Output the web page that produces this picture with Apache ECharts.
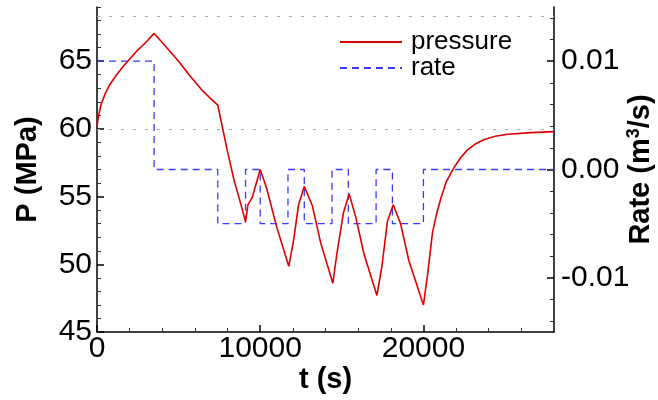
<!DOCTYPE html>
<html>
<head>
<meta charset="utf-8">
<script src="https://cdn.jsdelivr.net/npm/echarts@6/dist/echarts.min.js"></script>
<style>
html,body{margin:0;padding:0;background:#fff;}
#chart{width:658px;height:400px;}
</style>
</head>
<body>
<div id="chart"></div>
<script>
// pressure history (t in s, P in MPa)
var pressureT = [0, 100, 250, 500, 800, 1200, 1600, 2400, 3000, 3500,
  4200, 5000, 5700, 6400, 7000, 7400,
  7600, 8000, 8400, 8800, 9100,
  9250, 9500, 10000,
  10400, 11000, 11750,
  12050, 12350, 12700,
  13200, 13700, 14450,
  14700, 15100, 15450,
  15850, 16350, 17150,
  17450, 17800, 18150,
  18600, 19100, 20000,
  20250, 20550, 20800, 21050, 21400, 21900, 22300, 22700, 23200, 23700, 24400, 25150, 26600, 28000];
var pressureP = [60.2, 61.0, 61.8, 62.6, 63.3, 64.0, 64.6, 65.7, 66.4, 67.05,
  66.1, 65.0, 63.9, 62.9, 62.2, 61.75,
  60.6, 58.3, 56.2, 54.5, 53.15,
  54.4, 54.9, 57.0,
  55.6, 52.8, 49.85,
  51.8, 54.4, 55.75,
  54.3, 51.6, 48.6,
  50.8, 53.8, 55.2,
  53.5, 50.8, 47.7,
  49.8, 53.2, 54.4,
  53.0, 50.3, 47.0,
  49.2, 52.3, 53.7, 54.8, 56.1, 57.2, 57.9, 58.45, 58.9, 59.2, 59.45, 59.6, 59.72, 59.8];

// rate steps: value held from each time until the next one
var rateT = [0, 3500, 7400, 9100, 10000, 11700, 12700, 14400, 15400, 17100, 18100, 20000, 28000];
var rateQ = [0.01, 0, -0.005, 0, -0.005, 0, -0.005, 0, -0.005, 0, -0.005, 0, 0];

// ticks
var tMajor = [0, 10000, 20000];
var tMinor = [2000, 4000, 6000, 8000, 12000, 14000, 16000, 18000, 22000, 24000, 26000];
var pMajor = [45, 50, 55, 60, 65];
var pMinor = [46, 47, 48, 49, 51, 52, 53, 54, 56, 57, 58, 59, 61, 62, 63, 64, 66, 67, 68, 69];
var qMajor = [-0.01, 0, 0.01];
var qMinor = [-0.014, -0.012, -0.008, -0.006, -0.004, -0.002, 0.002, 0.004, 0.006, 0.008, 0.012, 0.014];

// dotted reference lines (MPa)
var gridLevels = [60, 68.3];

var FONT = 'Liberation Sans, Arial, sans-serif';

function pairs(xs, ys) {
  return xs.map(function (x, i) { return [x, ys[i]]; });
}

var chart = echarts.init(document.getElementById('chart'));

var lineAxis = { show: true, onZero: false, lineStyle: { color: '#000', width: 1.5 } };
var noLine = { show: false, onZero: false };
var noLabel = { show: false };

var option = {
  animation: false,
  grid: [
    { left: 97, right: 104, top: 7, bottom: 68, outerBoundsMode: 'none', containLabel: false },
    { left: 97, right: 104, top: 7, bottom: 68, outerBoundsMode: 'none', containLabel: false }
  ],
  legend: {
    orient: 'vertical',
    left: 334,
    top: 24,
    itemWidth: 62,
    itemHeight: 12,
    itemGap: 0,
    itemStyle: { opacity: 0 },
    textStyle: { fontSize: 26, color: '#000', fontFamily: FONT, padding: [0, 0, 0, 4] },
    data: ['pressure', 'rate']
  },
  xAxis: [
    {
      type: 'value', gridIndex: 0, min: 0, max: 28000, position: 'bottom',
      axisLine: lineAxis,
      axisTick: { inside: true, length: 7, customValues: tMajor, lineStyle: { color: '#000', width: 1.5 } },
      axisLabel: {
        customValues: tMajor, fontSize: 30, color: '#000', fontFamily: FONT, margin: 2,
        formatter: function (v) { return String(v); }
      },
      splitLine: { show: false },
      name: 't (s)', nameLocation: 'middle', nameGap: 33, nameMoveOverlap: false,
      nameTextStyle: { fontSize: 29, fontWeight: 'bold', color: '#000', fontFamily: FONT }
    },
    {
      type: 'value', gridIndex: 1, min: 0, max: 28000, position: 'bottom',
      axisLine: noLine,
      axisTick: { inside: true, length: 4, customValues: tMinor, lineStyle: { color: '#333', width: 1 } },
      axisLabel: noLabel,
      splitLine: { show: false }
    }
  ],
  yAxis: [
    {
      type: 'value', gridIndex: 0, min: 45, max: 69, position: 'left',
      axisLine: lineAxis,
      axisTick: { inside: true, length: 7, customValues: pMajor, lineStyle: { color: '#000', width: 1.5 } },
      axisLabel: { customValues: pMajor, fontSize: 30, color: '#000', fontFamily: FONT, margin: 5 },
      splitLine: { show: false },
      name: 'P (MPa)', nameLocation: 'middle', nameGap: 55, nameRotate: 90, nameMoveOverlap: false,
      nameTextStyle: { fontSize: 29, fontWeight: 'bold', color: '#000', fontFamily: FONT }
    },
    {
      type: 'value', gridIndex: 0, min: -0.015, max: 0.015, position: 'right',
      axisLine: lineAxis,
      axisTick: { inside: true, length: 7, customValues: qMajor, lineStyle: { color: '#000', width: 1.5 } },
      axisLabel: {
        customValues: qMajor, fontSize: 30, color: '#000', fontFamily: FONT, margin: 7,
        formatter: function (v) { return v.toFixed(2); }
      },
      splitLine: { show: false },
      name: 'Rate (m{sup|3}/s)', nameLocation: 'middle', nameGap: 71, nameRotate: 90, nameMoveOverlap: false,
      nameTextStyle: {
        fontSize: 29, fontWeight: 'bold', color: '#000', fontFamily: FONT,
        rich: { sup: { fontSize: 18, fontWeight: 'bold', color: '#000', fontFamily: FONT, verticalAlign: 'top', padding: [0, 0, 14, 0] } }
      }
    },
    {
      type: 'value', gridIndex: 1, min: 45, max: 69, position: 'left',
      axisLine: noLine,
      axisTick: { inside: true, length: 4, customValues: pMinor, lineStyle: { color: '#333', width: 1 } },
      axisLabel: noLabel,
      splitLine: { show: false }
    },
    {
      type: 'value', gridIndex: 1, min: -0.015, max: 0.015, position: 'right',
      axisLine: noLine,
      axisTick: { inside: true, length: 4, customValues: qMinor, lineStyle: { color: '#333', width: 1 } },
      axisLabel: noLabel,
      splitLine: { show: false }
    }
  ],
  series: [
    {
      name: 'pressure',
      type: 'line',
      xAxisIndex: 0, yAxisIndex: 0,
      symbol: 'none',
      data: pairs(pressureT, pressureP),
      itemStyle: { color: '#e00000' },
      lineStyle: { color: '#e00000', width: 1.6 },
      z: 3,
      markLine: {
        silent: true,
        symbol: 'none',
        label: { show: false },
        lineStyle: { color: '#aaa', type: [3, 9], width: 1 },
        data: gridLevels.map(function (v) { return { yAxis: v }; })
      }
    },
    {
      name: 'rate',
      type: 'line',
      xAxisIndex: 0, yAxisIndex: 1,
      symbol: 'none',
      step: 'end',
      data: pairs(rateT, rateQ),
      itemStyle: { color: '#3a3aff' },
      lineStyle: { color: '#3a3aff', width: 1.3, type: [7, 5] },
      z: 2
    }
  ]
};

chart.setOption(option);
</script>
</body>
</html>
